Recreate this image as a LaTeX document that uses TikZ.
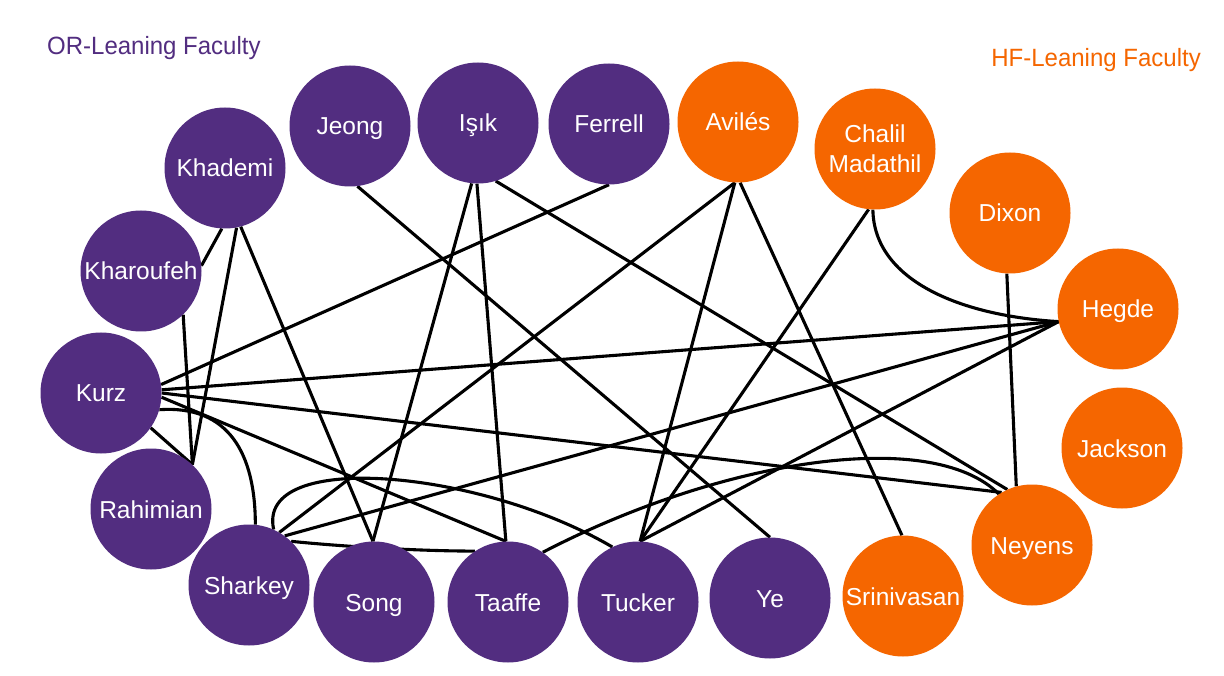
\documentclass[tikz,border=0pt]{standalone}
\usepackage{fontspec}
\setmainfont{Liberation Sans}
\newfontfamily\titlefont[FakeStretch=0.96]{Liberation Sans}
\usetikzlibrary{backgrounds}
\definecolor{orpurple}{HTML}{522D80}
\definecolor{hforange}{HTML}{F56600}
\tikzset{
  person/.style={circle, minimum size=121pt, inner sep=0pt, text=white,
    font=\fontsize{24.5}{30}\selectfont},
  oneline/.style={text height=18pt, text depth=0pt},
  ornode/.style={person, oneline, fill=orpurple},
  hfnode/.style={person, oneline, fill=hforange},
  link/.style={line width=3.1pt, black},
  titletext/.style={inner sep=0pt, font=\titlefont\fontsize{25}{30}\selectfont}
}
\begin{document}
\begin{tikzpicture}[x=1pt, y=-1pt]
\useasboundingbox (0,0) rectangle (1224,676);

\node[titletext, anchor=base west, text=orpurple] (ortitle) at (47,55) {OR-Leaning Faculty};
\node[titletext, anchor=base east, text=hforange] (hftitle) at (1201,67) {HF-Leaning Faculty};

% OR-leaning
\node[ornode] (kurz) at (101,393) {Kurz};
\node[ornode] (kharoufeh) at (141,271) {Kharoufeh};
\node[ornode] (khademi) at (225,168) {Khademi};
\node[ornode] (jeong) at (350,126) {Jeong};
\node[ornode] (isik) at (478,123) {Işık};
\node[ornode] (ferrell) at (609,124) {Ferrell};
\node[ornode] (rahimian) at (151,509) {Rahimian};
\node[ornode] (sharkey) at (249,585) {Sharkey};
\node[ornode] (song) at (374,602) {Song};
\node[ornode] (taaffe) at (508,602) {Taaffe};
\node[ornode] (tucker) at (638,602) {Tucker};
\node[ornode] (ye) at (770,598) {Ye};
% HF-leaning
\node[hfnode] (aviles) at (738,122) {Avilés};
\node[person, fill=hforange, align=center] (chalil) at (875,149) {Chalil\\Madathil};
\node[hfnode] (dixon) at (1010,213) {Dixon};
\node[hfnode] (hegde) at (1118,309) {Hegde};
\node[hfnode] (jackson) at (1122,448) {Jackson};
\node[hfnode] (neyens) at (1032,545) {Neyens};
\node[hfnode] (srinivasan) at (903,596) {Srinivasan};

\begin{scope}[on background layer]
\fill[white] (0,0) rectangle (1224,676);
\draw[link] (jeong.-83) -- (ye.90);
\draw[link] (isik.-96) -- (song.91);
\draw[link] (isik.-91) -- (taaffe.92);
\draw[link] (isik.-73) -- (neyens.114);
\draw[link] (ferrell.-90) -- (kurz.8);
\draw[link] (khademi.-93) -- (kharoufeh.5);
\draw[link] (khademi.-79) -- (rahimian.47);
\draw[link] (khademi.-75) -- (song.91);
\draw[link] (kharoufeh.-46) -- (rahimian.47);
\draw[link] (kurz.-35) -- (rahimian.47);
\draw[link] (kurz.-16) .. controls +(70,-5) and +(0,-70) .. (sharkey.84);
\draw[link] (kurz.3) -- (hegde.-168);
\draw[link] (kurz.0) -- (neyens.120);
\draw[link] (kurz.-4) -- (taaffe.92);
\draw[link] (sharkey.60) -- (aviles.-93);
\draw[link] (sharkey.54) -- (hegde.-168);
\draw[link] (sharkey.46) .. controls +(60,6) and +(-50,0) .. (taaffe.123);
\draw[link] (sharkey.66) .. controls +(-18,-80) and +(-133,-78) .. (tucker.115);
\draw[link] (taaffe.55) .. controls +(177,-92) and +(-68,-68) .. (neyens.123);
\draw[link] (tucker.88) -- (aviles.-93);
\draw[link] (tucker.88) -- (chalil.-96);
\draw[link] (tucker.88) -- (hegde.-168);
\draw[link] (aviles.-88) -- (srinivasan.91);
\draw[link] (chalil.-92) .. controls +(1,70) and +(-100,-6) .. (hegde.-168);
\draw[link] (dixon.-93) -- (neyens.105);
\end{scope}
\end{tikzpicture}
\end{document}
